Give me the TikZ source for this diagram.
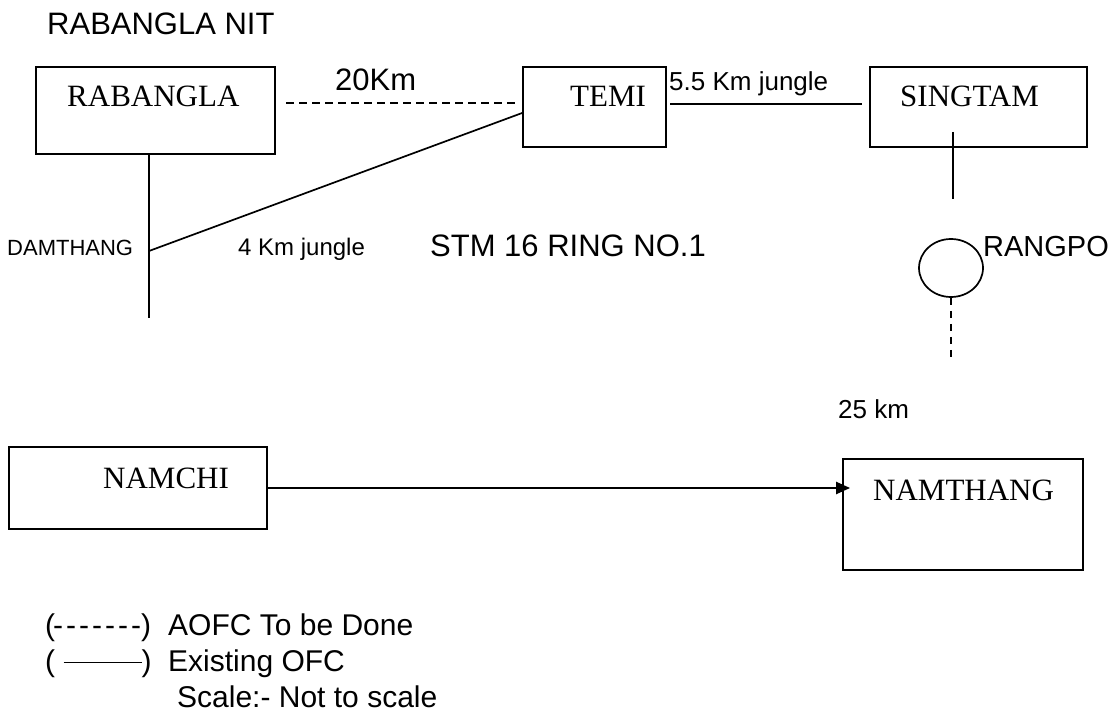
\documentclass[tikz,border=0pt]{standalone}
\usepackage{fontspec}
\setmainfont{Liberation Serif}
\setsansfont{Liberation Sans}
\usetikzlibrary{arrows.meta,shapes.geometric}
\begin{document}
\begin{tikzpicture}[x=1pt,y=-1pt,
  stationbox/.style={draw, line width=1.8pt, inner sep=0pt},
  serif/.style={inner sep=0pt, anchor=base west, font=\rmfamily\fontsize{31}{36}\selectfont},
  sans/.style={inner sep=0pt, anchor=base west, font=\sffamily\fontsize{#1}{#1}\selectfont},
  link/.style={line width=1.7pt},
  plan/.style={line width=1.5pt, dash pattern=on 8pt off 5pt},
]
\useasboundingbox[fill=white] (0,0) rectangle (1114,714);

% title
\node[sans=31] (title) at (47,35) {RABANGLA NIT};

% stations
\node[stationbox, minimum width=239pt, minimum height=87pt] (rab) at (155.5,110.5) {};
\node[serif] (rabt) at (67,107) {RABANGLA};
\node[stationbox, minimum width=143pt, minimum height=80pt] (temi) at (594.5,107) {};
\node[serif] (temit) at (570,107) {TEMI};
\node[stationbox, minimum width=217pt, minimum height=80pt] (sing) at (978.5,107) {};
\node[serif] (singt) at (900,107) {SINGTAM};
\node[stationbox, minimum width=258pt, minimum height=82pt] (namchi) at (138,488) {};
\node[serif] (namchit) at (103,488) {NAMCHI};
\node[stationbox, minimum width=240pt, minimum height=111pt] (namthang) at (963,514.5) {};
\node[serif] (namthangt) at (873,500) {NAMTHANG};
\node[draw, ellipse, line width=1.7pt, minimum width=64pt, minimum height=58pt, inner sep=0pt] (rangpo) at (951,268) {};
\node[sans=29] (rangpot) at (983,257) {RANGPO};

% labels
\node[sans=31] (l20) at (335,91) {20Km};
\node[sans=26] (l55) at (669,91) {5.5 Km jungle};
\node[sans=22] (ldam) at (7,256) {DAMTHANG};
\node[sans=24] (l4) at (238,256) {4 Km jungle};
\node[sans=31] (lstm) at (430,257) {STM 16 RING NO.1};
\node[sans=26] (l25) at (838,418) {25 km};

% connector end points
\coordinate (d1) at (286,103);
\coordinate (d2) at (518,103);
\coordinate (s1) at (670,104);
\coordinate (s2) at (862,104);
\coordinate (sv1) at (953,132);
\coordinate (sv2) at (953,199);
\coordinate (rv) at (951,360);
\coordinate (dbot) at (149,318);
\coordinate (dj) at (149,251);

% connectors
\draw[plan] (d1) -- (d2);
\draw[link] (s1) -- (s2);
\draw[link] (sv1) -- (sv2);
\draw[plan, dash pattern=on 7pt off 6pt] (rangpo.south) -- (rv);
\draw[link] (rab.south -| dbot) -- (dbot);
\draw[link] (dj) -- ([yshift=-6pt]temi.west);
\draw[line width=2.3pt, -{Triangle[length=14pt,width=12pt]}, shorten >=-8pt]
  (namchi.east) -- (namchi.east -| namthang.west);

% legend
\node[sans=30] (leg1) at (45,635) {\makebox[123pt][l]{(\kern-2pt-\kern3pt-\kern3pt-\kern3pt-\kern3pt-\kern3pt-\kern3pt-\kern0pt)}AOFC To be Done};
\node[sans=30] (leg2) at (45,671) {\makebox[123pt][l]{( \rule[0.26em]{78pt}{1.6pt})}Existing OFC};
\node[sans=30] (leg3) at (177,707) {Scale:- Not to scale};
\end{tikzpicture}
\end{document}
